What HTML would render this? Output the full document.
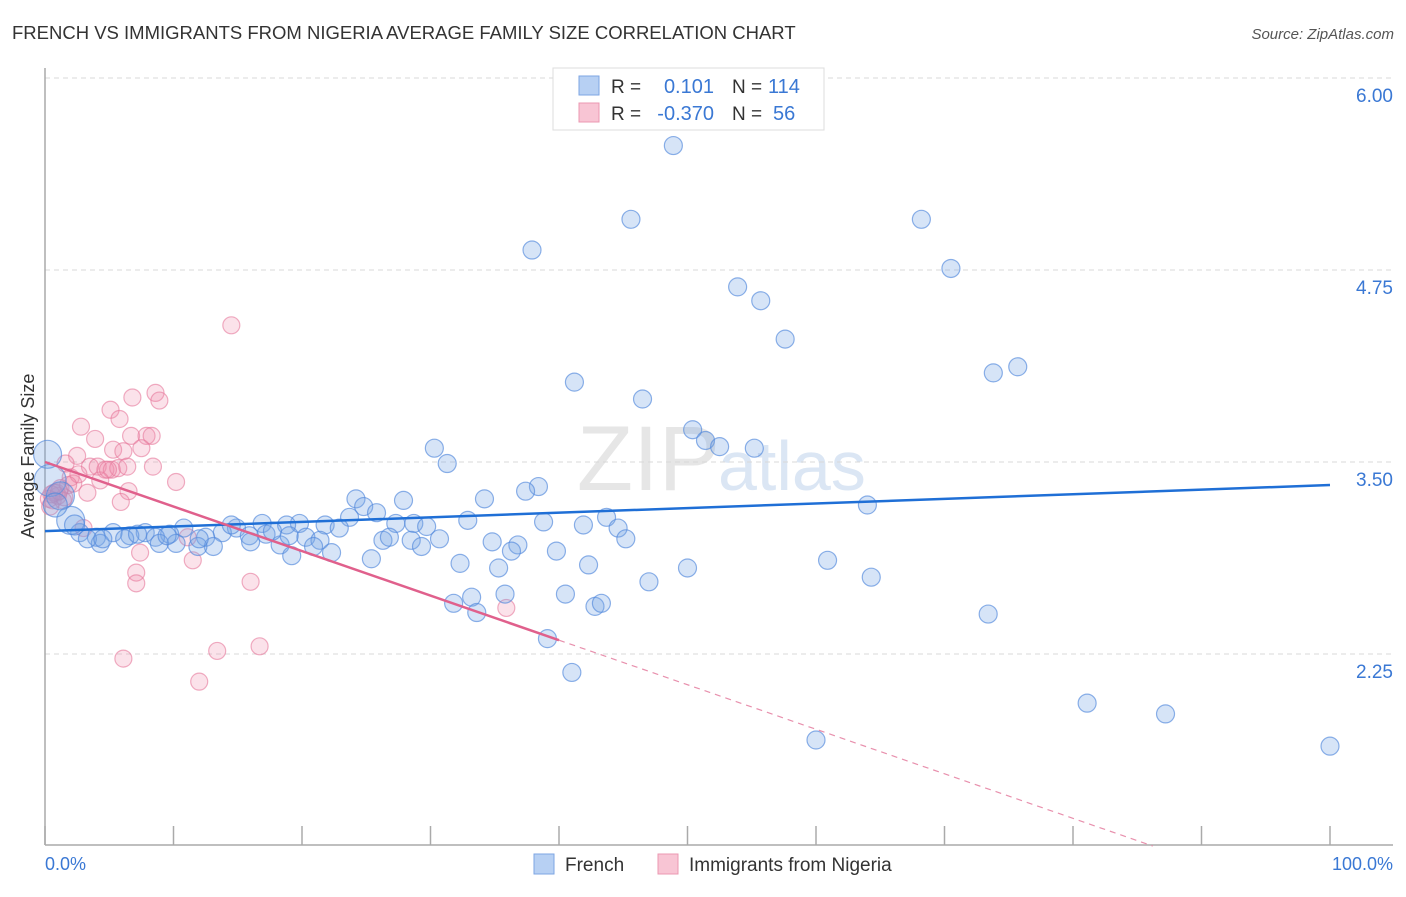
<!DOCTYPE html>
<html><head><meta charset="utf-8"><style>
body{margin:0;background:#fff;font-family:"Liberation Sans",sans-serif;}
svg text{font-family:"Liberation Sans",sans-serif;}
</style></head><body>
<svg id="chart" width="1406" height="892" xmlns="http://www.w3.org/2000/svg">
<text x="12" y="39" font-size="18.5" fill="#333">FRENCH VS IMMIGRANTS FROM NIGERIA AVERAGE FAMILY SIZE CORRELATION CHART</text>
<text x="1394" y="39" font-size="15" fill="#555" font-style="italic" text-anchor="end">Source: ZipAtlas.com</text>
<text x="720" y="490" font-size="92" fill="#e6e6e6" text-anchor="end" font-family="Liberation Serif">ZIP</text>
<text x="718" y="490" font-size="70" fill="#dbe6f4">atlas</text>
<g id="grid"></g><g id="axes"></g><g id="pts"></g><g id="trend"></g>
<text transform="translate(34,456) rotate(-90)" font-size="18" fill="#333" text-anchor="middle">Average Family Size</text>
<text x="45" y="870" font-size="18" fill="#3a78d4">0.0%</text>
<text x="1393" y="870" font-size="18" fill="#3a78d4" text-anchor="end">100.0%</text>
<g>
<rect x="553" y="68" width="271" height="62" fill="#fff" stroke="#ddd"/>
<rect x="579" y="76" width="20" height="19" fill="#b7d0f3" stroke="#7ea6e3"/>
<rect x="579" y="103" width="20" height="19" fill="#f8c5d4" stroke="#eb98b2"/>
<text x="611" y="93" font-size="19" fill="#333">R =</text><text x="714" y="93" font-size="20" fill="#3a78d4" text-anchor="end">0.101</text>
<text x="732" y="93" font-size="19" fill="#333">N =</text><text x="768" y="93" font-size="20" fill="#3a78d4">114</text>
<text x="611" y="120" font-size="19" fill="#333">R =</text><text x="714" y="120" font-size="20" fill="#3a78d4" text-anchor="end">-0.370</text>
<text x="732" y="120" font-size="19" fill="#333">N =</text><text x="773" y="120" font-size="20" fill="#3a78d4">56</text>
</g>
<g>
<rect x="534" y="854" width="20" height="20" fill="#b7d0f3" stroke="#7ea6e3"/>
<text x="565" y="871" font-size="19" fill="#333">French</text>
<rect x="658" y="854" width="20" height="20" fill="#f8c5d4" stroke="#eb98b2"/>
<text x="689" y="871" font-size="19" fill="#333">Immigrants from Nigeria</text>
</g>
</svg>
<script>
const yTicks=[2.25,3.50,4.75,6.00];
const yTickLabels=["2.25","3.50","4.75","6.00"];
const xTicks=[0,10,20,30,40,50,60,70,80,90,100];
const frenchX=[48.9,45.6,68.2,37.9,70.5,53.9,55.7,57.6,41.2,75.7,73.8,46.5,50.4,51.4,52.5,55.2,30.3,31.3,38.4,37.4,34.2,27.9,24.2,24.8,64.0,25.8,23.7,32.9,38.8,43.7,41.9,44.6,27.3,28.7,29.7,21.8,22.9,19.8,18.8,16.9,14.9,13.8,10.8,7.8,5.3,20.3,21.4,17.2,15.9,12.5,9.7,8.6,6.6,4.0,2.7,26.3,26.8,28.5,30.7,34.8,36.8,45.2,18.3,20.9,19.2,22.3,10.2,8.9,13.1,11.9,29.3,4.3,3.3,36.3,39.8,25.4,32.3,42.3,35.3,50.0,60.9,47.0,64.3,35.8,33.2,40.5,31.8,33.6,42.8,43.3,73.4,39.1,41.0,81.1,87.2,60.0,100,0.2,0.4,1.2,2.0,0.8,2.3,14.5,17.7,4.5,6.2,7.2,9.5,12.0,16.0,19.0];
const frenchY=[5.56,5.08,5.08,4.88,4.76,4.64,4.55,4.30,4.02,4.12,4.08,3.91,3.71,3.64,3.60,3.59,3.59,3.49,3.34,3.31,3.26,3.25,3.26,3.21,3.22,3.17,3.14,3.12,3.11,3.14,3.09,3.07,3.10,3.10,3.08,3.09,3.07,3.10,3.09,3.10,3.07,3.04,3.07,3.04,3.04,3.01,2.99,3.03,3.02,3.01,3.03,3.01,3.02,3.01,3.04,2.99,3.01,2.99,3.00,2.98,2.96,3.00,2.96,2.95,2.89,2.91,2.97,2.97,2.95,2.95,2.95,2.97,3.00,2.92,2.92,2.87,2.84,2.83,2.81,2.81,2.86,2.72,2.75,2.64,2.62,2.64,2.58,2.52,2.56,2.58,2.51,2.35,2.13,1.93,1.86,1.69,1.65,3.55,3.38,3.28,3.12,3.22,3.09,3.09,3.05,3.00,3.00,3.03,3.02,3.00,2.98,3.02];
const frenchR=[9,9,9,9,9,9,9,9,9,9,9,9,9,9,9,9,9,9,9,9,9,9,9,9,9,9,9,9,9,9,9,9,9,9,9,9,9,9,9,9,9,9,9,9,9,9,9,9,9,9,9,9,9,9,9,9,9,9,9,9,9,9,9,9,9,9,9,9,9,9,9,9,9,9,9,9,9,9,9,9,9,9,9,9,9,9,9,9,9,9,9,9,9,9,9,9,9,14,16,14,14,12,10,9,9,9,9,9,9,9,9,9];
const nigeriaX=[14.5,6.8,8.6,8.9,5.1,5.8,2.8,3.9,6.7,7.9,8.3,5.3,6.1,7.5,2.5,8.4,10.2,1.6,3.5,4.1,4.7,5.2,5.7,4.3,3.3,2.2,6.5,5.9,0.9,0.6,1.2,0.4,1.4,3.0,11.1,7.4,11.5,7.1,7.1,16.0,6.1,13.4,16.7,12.0,35.9,1.0,0.7,1.5,2.0,0.3,2.6,6.4,4.9,1.8,0.5,1.1];
const nigeriaY=[4.39,3.92,3.95,3.90,3.84,3.78,3.73,3.65,3.67,3.67,3.67,3.58,3.57,3.59,3.54,3.47,3.37,3.49,3.47,3.47,3.45,3.45,3.46,3.38,3.30,3.36,3.31,3.24,3.30,3.25,3.33,3.21,3.25,3.07,3.01,2.91,2.86,2.78,2.71,2.72,2.22,2.27,2.30,2.07,2.55,3.28,3.30,3.27,3.40,3.26,3.42,3.47,3.45,3.35,3.29,3.31];
const trendFrench=[3.05,3.35];
const trendNigeria=[3.50,2.34,40];
const NS="http://www.w3.org/2000/svg";
const L=45,R=1330,RG=1393,B=845,T=68;
const sx=v=>L+(R-L)*v/100;
const sy=v=>999.6-v*153.6;
function mk(tag,attrs,parent){const e=document.createElementNS(NS,tag);for(const k in attrs)e.setAttribute(k,attrs[k]);document.getElementById(parent).appendChild(e);return e;}
yTicks.forEach((t,i)=>{
 const g=mk('line',{x1:L,x2:RG,y1:sy(t),y2:sy(t),stroke:'#d8d8d8','stroke-dasharray':'5,4'},'grid');
 
 
 const tx=mk('text',{x:RG,y:sy(t)+24,'font-size':19,fill:'#3a78d4','text-anchor':'end'},'grid');
 tx.textContent=yTickLabels[i];
 
 
});
const ya=mk('line',{x1:L,x2:L,y1:T,y2:B,stroke:'#aaa','stroke-width':1.5},'axes');


const xa=mk('line',{x1:L,x2:RG,y1:B,y2:B,stroke:'#aaa','stroke-width':1.5},'axes');


xTicks.forEach(t=>{const k=mk('line',{x1:sx(t),x2:sx(t),y1:B,y2:B-19,stroke:'#aaa','stroke-width':1.5},'axes');
 
 });
nigeriaX.forEach((x,i)=>{const c=mk('circle',{cx:sx(x),cy:sy(nigeriaY[i]),r:8.5,fill:'rgba(240,140,170,0.25)',stroke:'rgba(230,120,155,0.6)','stroke-width':1.2},'pts');
 
 });
frenchX.forEach((x,i)=>{const c=mk('circle',{cx:sx(x),cy:sy(frenchY[i]),r:frenchR[i],fill:'rgba(120,165,230,0.3)',stroke:'rgba(80,135,220,0.65)','stroke-width':1.2},'pts');
 
 });
const tf=mk('line',{x1:sx(0),y1:sy(trendFrench[0]),x2:sx(100),y2:sy(trendFrench[1]),stroke:'#1f6fd6','stroke-width':2.5},'trend');


const slope=(trendNigeria[1]-trendNigeria[0])/trendNigeria[2];
const xEnd=(1.0-trendNigeria[0])/slope;
const tn=mk('line',{x1:sx(0),y1:sy(trendNigeria[0]),x2:sx(trendNigeria[2]),y2:sy(trendNigeria[1]),stroke:'#e0608c','stroke-width':2.5},'trend');


const td=mk('line',{x1:sx(trendNigeria[2]),y1:sy(trendNigeria[1]),x2:sx(xEnd),y2:sy(1.0),stroke:'#e890ad','stroke-width':1.2,'stroke-dasharray':'6,5'},'trend');


</script>
</body></html>
